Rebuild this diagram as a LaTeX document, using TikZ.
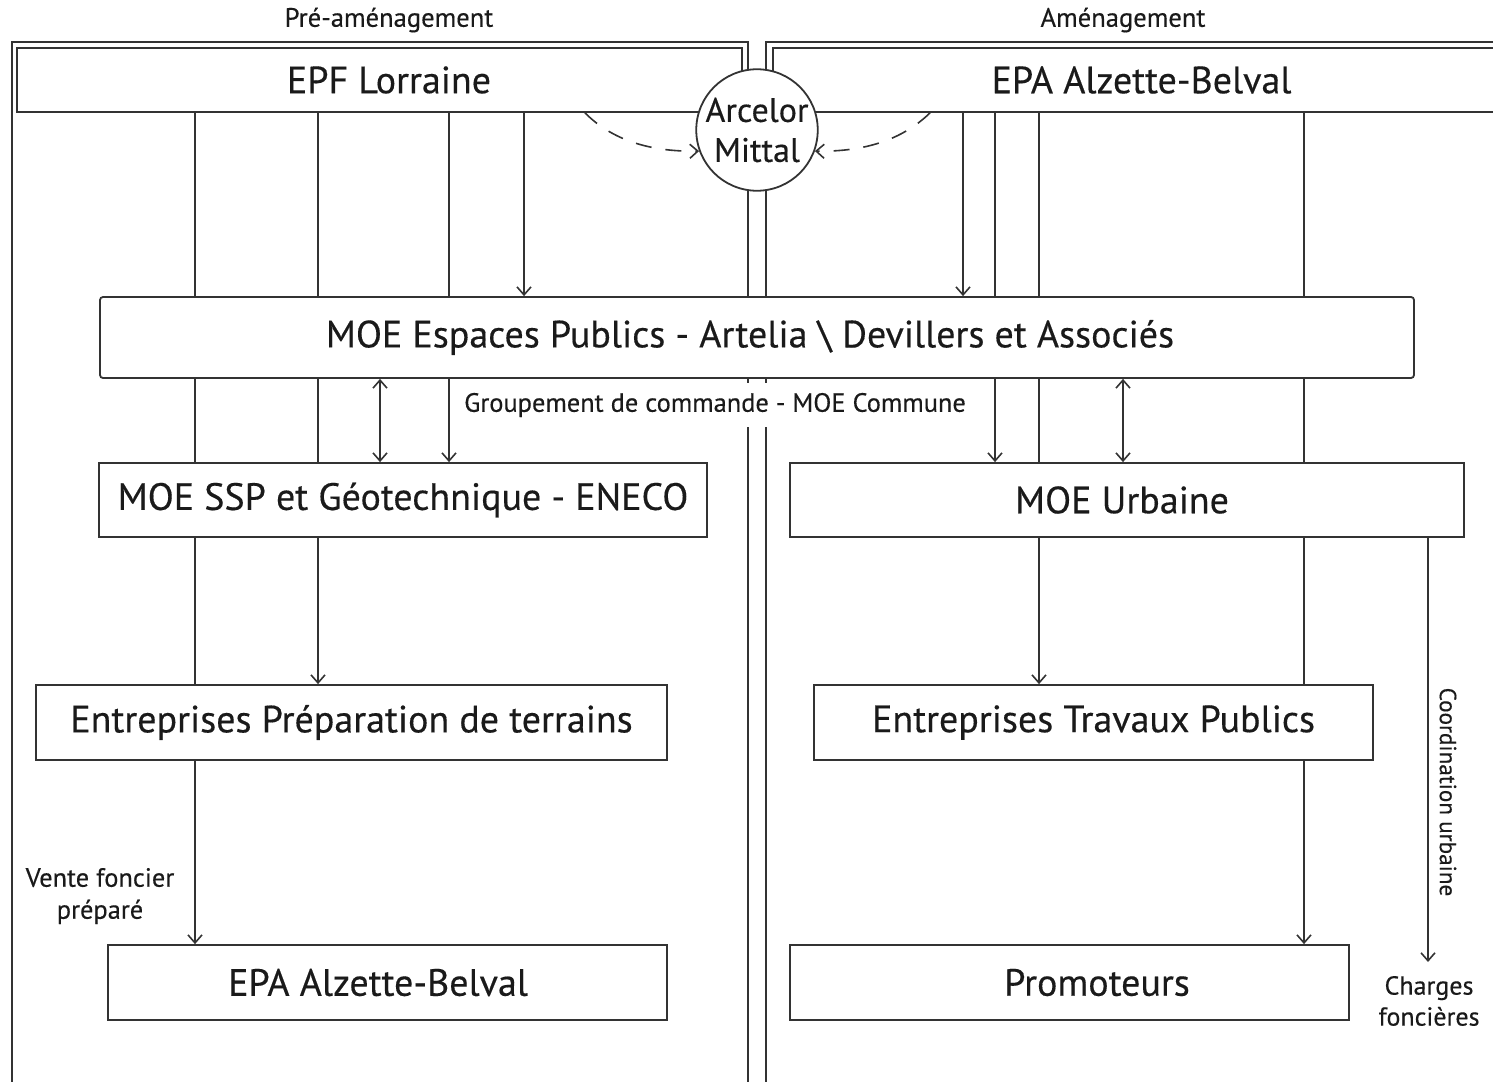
\documentclass[tikz,border=0pt]{standalone}
\usepackage{fontspec}
\setmainfont{PT Sans}[FakeBold=0.35]
\usetikzlibrary{arrows.meta,backgrounds}
\definecolor{ln}{HTML}{333333}
\definecolor{tx}{HTML}{1A1A1A}
\begin{document}
\begin{tikzpicture}[x=0.5pt,y=-0.5pt,
  every node/.style={text=tx},
  box/.style={draw=ln, line width=0.9pt, fill=white, inner sep=0pt, font=\fontsize{19}{22}\selectfont},
  conn/.style={draw=ln, line width=0.8pt, -{Straight Barb[length=4pt,width=7pt]}},
  dconn/.style={draw=ln, line width=0.8pt, {Straight Barb[length=4pt,width=7pt]}-{Straight Barb[length=4pt,width=7pt]}},
  panel/.style={draw=ln, line width=1.1pt},
  lab/.style={font=\fontsize{13.2}{16}\selectfont, inner sep=1pt, align=center},
  head/.style={font=\fontsize{13.3}{16}\selectfont, inner sep=1pt},
  dashconn/.style={draw=ln, line width=0.8pt, dash pattern=on 8pt off 7pt, -{Straight Barb[length=4pt,width=7pt]}}
]
\useasboundingbox (0,0) rectangle (1493,1081);

% headers
\node[head] (hpre) at (389,20) {Pré-aménagement};
\node[head] (hame) at (1123,20) {Aménagement};

% boxes
\node[box, minimum width=362.5pt, minimum height=32pt] (epf) at (379.5,80) {\hspace*{9.5pt}EPF Lorraine};
\node[box, minimum width=368.5pt, minimum height=32pt] (epat) at (1141.5,80) {EPA Alzette-Belval};
\node[draw=ln, line width=0.9pt, fill=white, circle, minimum size=60pt, inner sep=0pt, align=center,
      font=\fontsize{17}{20}\selectfont] (am) at (757,130) {Arcelor\\Mittal};
\node[box, rounded corners=1.5pt, minimum width=657pt, minimum height=40.5pt] (moeep) at (757,337.5)
  {MOE Espaces Publics - Artelia \textbackslash{} Devillers et Associés\hspace*{7pt}};
\node[lab, fill=white, inner ysep=5pt] (grp) at (715,405) {Groupement de commande - MOE Commune};
\node[box, minimum width=304pt, minimum height=37pt] (ssp) at (403,500) {MOE SSP et Géotechnique - ENECO};
\node[box, minimum width=337pt, minimum height=37pt] (urb) at (1127,500) {MOE Urbaine\hspace*{5pt}};
\node[box, minimum width=315.5pt, minimum height=37.5pt] (prep) at (351.5,722.5) {Entreprises Préparation de terrains};
\node[box, minimum width=279.5pt, minimum height=37.5pt] (tp) at (1093.5,722.5) {Entreprises Travaux Publics};
\node[box, minimum width=279.5pt, minimum height=37.5pt] (epab) at (387.5,982.5) {EPA Alzette-Belval\hspace*{9.5pt}};
\node[box, minimum width=279.5pt, minimum height=37.5pt] (promo) at (1069.5,982.5) {\hspace*{27.5pt}Promoteurs};

% labels
\node[lab] (vente) at (100,896) {Vente foncier\\préparé};
\node[lab, font=\fontsize{13}{15.5}\selectfont] (charges) at (1429,1001) {Charges\\foncières};
\node[lab, rotate=-90, font=\fontsize{11.6}{14}\selectfont] (coord) at (1448,792) {Coordination urbaine};
\coordinate (chend) at (1428,962);

\begin{scope}[on background layer]
  % panels
  \path[panel] (12,1095) -- (12,42) -- (748,42) -- (748,1095);
  \path[panel] (766,1095) -- (766,42) -- (1510,42);
  % left connectors
  \path[conn] (195,0 |- epf.south) -- (195,0 |- epab.north);
  \path[conn] (318,0 |- epf.south) -- (318,0 |- prep.north);
  \path[conn] (449,0 |- epf.south) -- (449,0 |- ssp.north);
  \path[conn] (524,0 |- epf.south) -- (524,0 |- moeep.north);
  \path[dconn] (380,0 |- moeep.south) -- (380,0 |- ssp.north);
  % right connectors
  \path[conn] (963,0 |- epat.south) -- (963,0 |- moeep.north);
  \path[conn] (995,0 |- epat.south) -- (995,0 |- urb.north);
  \path[conn] (1039,0 |- epat.south) -- (1039,0 |- tp.north);
  \path[conn] (1304,0 |- epat.south) -- (1304,0 |- promo.north);
  \path[dconn] (1123,0 |- moeep.south) -- (1123,0 |- urb.north);
  \path[conn] (1428,0 |- urb.south) -- (chend);
\end{scope}

% dashed curves to Arcelor Mittal
\path[dashconn] (585,0 |- epf.south) .. controls (612,140) and (650,152) .. (am.200);
\path[dashconn] (930,0 |- epat.south) .. controls (902,140) and (864,152) .. (am.340);
\end{tikzpicture}
\end{document}
